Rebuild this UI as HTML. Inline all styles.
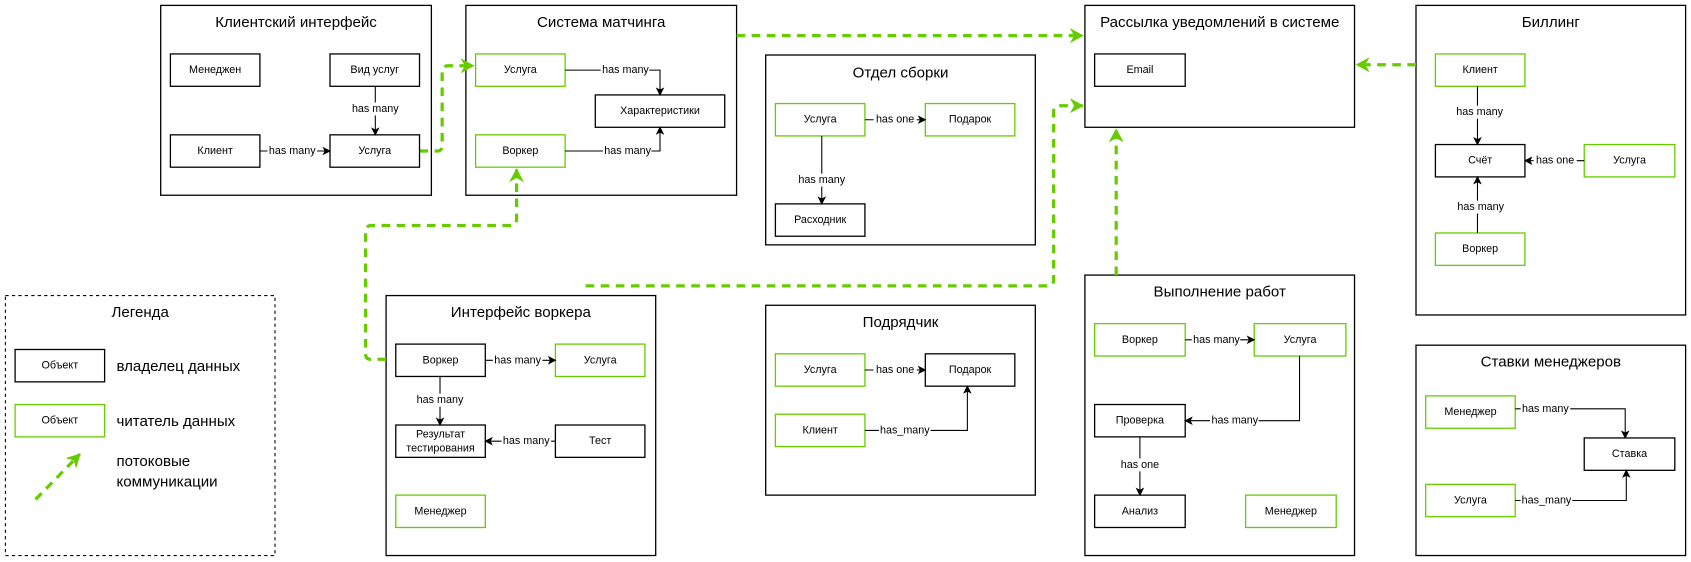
<!DOCTYPE html>
<html><head><meta charset="utf-8"><style>
html,body{margin:0;padding:0;background:#fff}
svg{display:block}
text{font-family:"Liberation Sans","DejaVu Sans",sans-serif;fill:#000}
.t{font-size:14px;text-anchor:middle}
.n{font-size:10px;text-anchor:middle;dominant-baseline:central}
.l{font-size:10px;text-anchor:middle;dominant-baseline:central}
.b{fill:#fff;stroke:#000;stroke-width:1.2}
.g{fill:#fff;stroke:#66cc00;stroke-width:1.2}
.e{fill:none;stroke:#000;stroke-width:1}
.d{fill:none;stroke:#66cc00;stroke-width:3;stroke-dasharray:8 6}
</style></head><body>
<svg width="1691" height="562" viewBox="0 0 1568 521" preserveAspectRatio="none" xmlns="http://www.w3.org/2000/svg">
<defs>
<marker id="a" markerWidth="8" markerHeight="8" refX="7" refY="4" orient="auto" markerUnits="userSpaceOnUse"><path d="M0,0 L8,4 L0,8 L2,4z" fill="#000"/></marker>
<marker id="ga" markerWidth="14" markerHeight="14" refX="12" refY="7" orient="auto" markerUnits="userSpaceOnUse"><path d="M0,0 L13,7 L0,14 L4,7z" fill="#66cc00"/></marker>
</defs>

<!-- Containers -->
<rect class="b" x="149" y="5" width="251" height="176"/><text class="t" x="274.5" y="25">Клиентский интерфейс</text>
<rect class="b" x="432" y="5" width="251" height="176"/><text class="t" x="557.5" y="25">Система матчинга</text>
<rect class="b" x="1006" y="5" width="250" height="113"/><text class="t" x="1131" y="25">Рассылка уведомлений в системе</text>
<rect class="b" x="710" y="51" width="250" height="176"/><text class="t" x="835" y="72">Отдел сборки</text>
<rect class="b" x="1313" y="5" width="250" height="287"/><text class="t" x="1438" y="25">Биллинг</text>
<rect class="b" x="1313" y="320" width="250" height="195"/><text class="t" x="1438" y="340">Ставки менеджеров</text>
<rect class="b" x="1006" y="255" width="250" height="260"/><text class="t" x="1131" y="275">Выполнение работ</text>
<rect class="b" x="710" y="283" width="250" height="176"/><text class="t" x="835" y="303">Подрядчик</text>
<rect class="b" x="358" y="274" width="250" height="241"/><text class="t" x="483" y="294">Интерфейс воркера</text>
<rect x="5" y="274" width="250" height="241" fill="#fff" stroke="#000" stroke-dasharray="3 3"/><text class="t" x="130" y="294">Легенда</text>

<!-- Dashed flows -->
<path class="d" d="M389,140 H406 Q410,140 410,134 V66 Q410,61 416,61 H439" marker-end="url(#ga)"/>
<path class="d" d="M683,33 H1004" marker-end="url(#ga)"/>
<path class="d" d="M1313,60 H1258" marker-end="url(#ga)"/>
<path class="d" d="M358,333 H343 Q339,333 339,328 V214 Q339,209 345,209 H474 Q479,209 479,203 V157" marker-end="url(#ga)"/>
<path class="d" d="M543,265 H972 Q977,265 977,259 V103 Q977,98 983,98 H1004" marker-end="url(#ga)"/>
<path class="d" d="M1035,255 V120" marker-end="url(#ga)"/>

<!-- Клиентский -->
<rect class="b" x="158" y="50" width="83" height="30"/><text class="n" x="199.5" y="65">Менеджен</text>
<rect class="b" x="306" y="50" width="83" height="30"/><text class="n" x="347.5" y="65">Вид услуг</text>
<rect class="b" x="158" y="125" width="83" height="30"/><text class="n" x="199.5" y="140">Клиент</text>
<rect class="b" x="306" y="125" width="83" height="30"/><text class="n" x="347.5" y="140">Услуга</text>
<path class="e" d="M348,80 V125" marker-end="url(#a)"/><rect x="326" y="95" width="44" height="12" fill="#fff"/><text class="l" x="348" y="101">has many</text>
<path class="e" d="M241,140 H306" marker-end="url(#a)"/><rect x="248" y="134" width="46" height="12" fill="#fff"/><text class="l" x="271" y="140">has many</text>

<!-- Матчинг -->
<rect class="g" x="441" y="50" width="83" height="30"/><text class="n" x="482.5" y="65">Услуга</text>
<rect class="b" x="552" y="88" width="120" height="30"/><text class="n" x="612" y="103">Характеристики</text>
<rect class="g" x="441" y="125" width="83" height="30"/><text class="n" x="482.5" y="140">Воркер</text>
<path class="e" d="M524,65 H612 V88" marker-end="url(#a)"/><rect x="557" y="59" width="45" height="12" fill="#fff"/><text class="l" x="580" y="65">has many</text>
<path class="e" d="M524,140 H612 V118" marker-end="url(#a)"/><rect x="559" y="134" width="45" height="12" fill="#fff"/><text class="l" x="582" y="140">has many</text>

<!-- Рассылка -->
<rect class="b" x="1015" y="50" width="84" height="30"/><text class="n" x="1057" y="65">Email</text>

<!-- Отдел сборки -->
<rect class="g" x="719" y="96" width="83" height="30"/><text class="n" x="760.5" y="111">Услуга</text>
<rect class="g" x="858" y="96" width="83" height="30"/><text class="n" x="899.5" y="111">Подарок</text>
<rect class="b" x="719" y="189" width="83" height="30"/><text class="n" x="760.5" y="204">Расходник</text>
<path class="e" d="M802,111 H858" marker-end="url(#a)"/><rect x="810" y="105" width="40" height="12" fill="#fff"/><text class="l" x="830" y="111">has one</text>
<path class="e" d="M762,126 V189" marker-end="url(#a)"/><rect x="740" y="161" width="45" height="12" fill="#fff"/><text class="l" x="762" y="167">has many</text>

<!-- Биллинг -->
<rect class="g" x="1331" y="50" width="83" height="30"/><text class="n" x="1372.5" y="65">Клиент</text>
<rect class="b" x="1331" y="134" width="83" height="30"/><text class="n" x="1372.5" y="149">Счёт</text>
<rect class="g" x="1469" y="134" width="84" height="30"/><text class="n" x="1511" y="149">Услуга</text>
<rect class="g" x="1331" y="216" width="83" height="30"/><text class="n" x="1372.5" y="231">Воркер</text>
<path class="e" d="M1370,80 V134" marker-end="url(#a)"/><rect x="1350" y="98" width="45" height="12" fill="#fff"/><text class="l" x="1372" y="104">has many</text>
<path class="e" d="M1370,216 V164" marker-end="url(#a)"/><rect x="1350" y="186" width="45" height="12" fill="#fff"/><text class="l" x="1373" y="192">has many</text>
<path class="e" d="M1469,149 H1414" marker-end="url(#a)"/><rect x="1422" y="143" width="40" height="12" fill="#fff"/><text class="l" x="1442" y="149">has one</text>

<!-- Ставки -->
<rect class="g" x="1322" y="367" width="83" height="30"/><text class="n" x="1363.5" y="382">Менеджер</text>
<rect class="b" x="1469" y="406" width="84" height="30"/><text class="n" x="1511" y="421">Ставка</text>
<rect class="g" x="1322" y="449" width="83" height="30"/><text class="n" x="1363.5" y="464">Услуга</text>
<path class="e" d="M1405,379 H1507 V406" marker-end="url(#a)"/><rect x="1410" y="373" width="46" height="12" fill="#fff"/><text class="l" x="1433" y="379">has many</text>
<path class="e" d="M1405,464 H1508 V436" marker-end="url(#a)"/><rect x="1410" y="458" width="48" height="12" fill="#fff"/><text class="l" x="1434" y="464">has_many</text>

<!-- Выполнение -->
<rect class="g" x="1015" y="300" width="84" height="30"/><text class="n" x="1057" y="315">Воркер</text>
<rect class="g" x="1163" y="300" width="85" height="30"/><text class="n" x="1205.5" y="315">Услуга</text>
<rect class="b" x="1015" y="375" width="84" height="30"/><text class="n" x="1057" y="390">Проверка</text>
<rect class="b" x="1015" y="459" width="84" height="30"/><text class="n" x="1057" y="474">Анализ</text>
<rect class="g" x="1155" y="459" width="84" height="30"/><text class="n" x="1197" y="474">Менеджер</text>
<path class="e" d="M1099,315 H1163" marker-end="url(#a)"/><rect x="1105" y="309" width="45" height="12" fill="#fff"/><text class="l" x="1128" y="315">has many</text>
<path class="e" d="M1205,330 V390 H1099" marker-end="url(#a)"/><rect x="1122" y="384" width="45" height="12" fill="#fff"/><text class="l" x="1145" y="390">has many</text>
<path class="e" d="M1057,405 V459" marker-end="url(#a)"/><rect x="1037" y="425" width="40" height="12" fill="#fff"/><text class="l" x="1057" y="431">has one</text>

<!-- Подрядчик -->
<rect class="g" x="719" y="328" width="83" height="30"/><text class="n" x="760.5" y="343">Услуга</text>
<rect class="b" x="858" y="328" width="83" height="30"/><text class="n" x="899.5" y="343">Подарок</text>
<rect class="g" x="719" y="384" width="83" height="30"/><text class="n" x="760.5" y="399">Клиент</text>
<path class="e" d="M802,343 H858" marker-end="url(#a)"/><rect x="810" y="337" width="40" height="12" fill="#fff"/><text class="l" x="830" y="343">has one</text>
<path class="e" d="M802,399 H897 V358" marker-end="url(#a)"/><rect x="815" y="393" width="48" height="12" fill="#fff"/><text class="l" x="839" y="399">has_many</text>

<!-- Интерфейс воркера -->
<rect class="b" x="367" y="319" width="83" height="30"/><text class="n" x="408.5" y="334">Воркер</text>
<rect class="g" x="515" y="319" width="83" height="30"/><text class="n" x="556.5" y="334">Услуга</text>
<rect class="b" x="367" y="394" width="83" height="30"/><text class="n" x="408.5" y="403">Результат</text><text class="n" x="408.5" y="416">тестирования</text>
<rect class="b" x="515" y="394" width="83" height="30"/><text class="n" x="556.5" y="409">Тест</text>
<rect class="g" x="367" y="459" width="83" height="30"/><text class="n" x="408.5" y="474">Менеджер</text>
<path class="e" d="M450,334 H515" marker-end="url(#a)"/><rect x="457" y="328" width="46" height="12" fill="#fff"/><text class="l" x="480" y="334">has many</text>
<path class="e" d="M408,349 V394" marker-end="url(#a)"/><rect x="386" y="365" width="45" height="12" fill="#fff"/><text class="l" x="408" y="371">has many</text>
<path class="e" d="M515,409 H450" marker-end="url(#a)"/><rect x="465" y="403" width="46" height="12" fill="#fff"/><text class="l" x="488" y="409">has many</text>

<!-- Легенда -->
<rect class="b" x="14" y="324" width="83" height="30"/><text class="n" x="55.5" y="339">Объект</text>
<text x="108" y="344" style="font-size:14px">владелец данных</text>
<rect class="g" x="14" y="375" width="83" height="30"/><text class="n" x="55.5" y="390">Объект</text>
<text x="108" y="395" style="font-size:14px">читатель данных</text>
<path class="d" d="M33,463 L74,421" marker-end="url(#ga)"/>
<text x="108" y="432" style="font-size:14px">потоковые</text>
<text x="108" y="451" style="font-size:14px">коммуникации</text>
</svg>
</body></html>
